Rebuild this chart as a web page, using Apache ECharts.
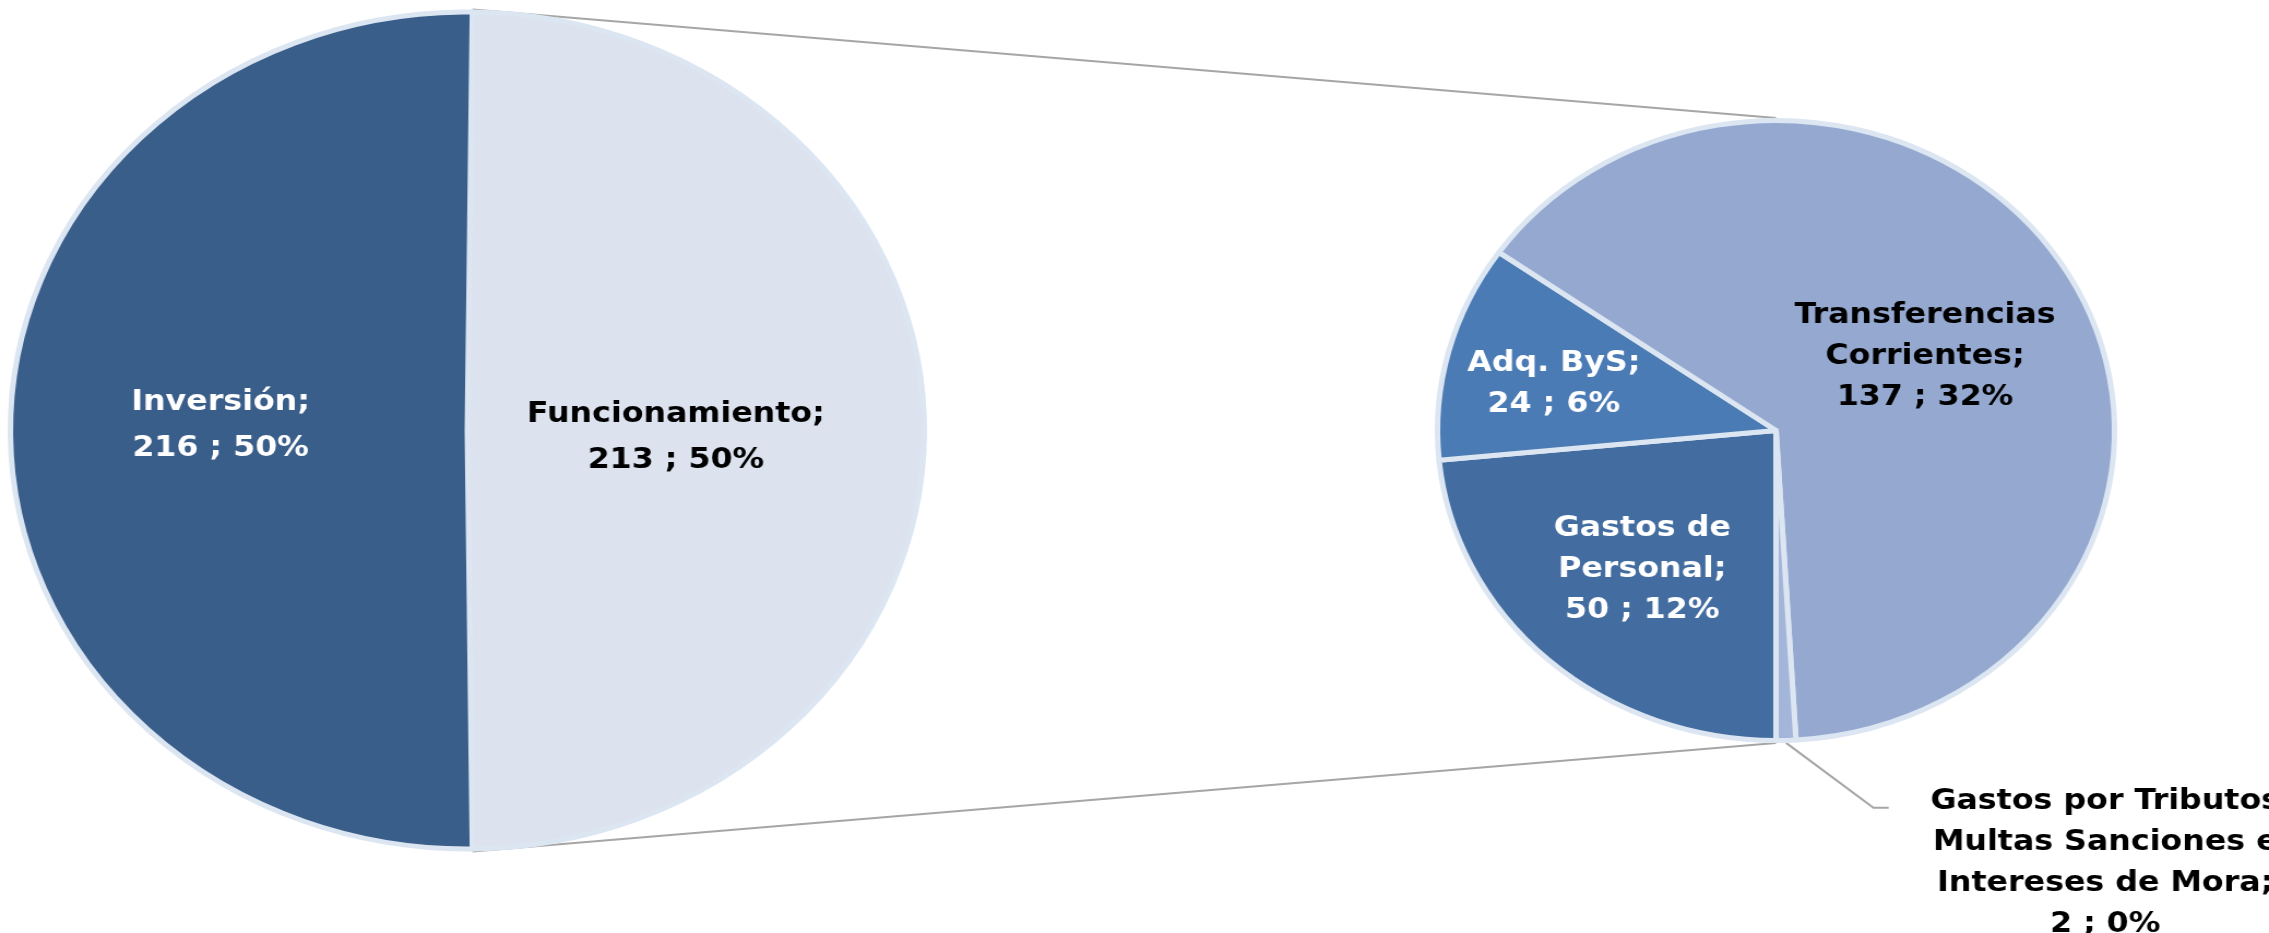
<!DOCTYPE html>
<html><head><meta charset="utf-8">
<script src="https://cdn.jsdelivr.net/npm/echarts@6/dist/echarts.min.js"></script>
<style>
html,body{margin:0;padding:0;background:#fff;overflow:hidden;width:2269px;height:933px;}
#wrap{width:2269px;height:933px;overflow:hidden;position:relative;}
#chart{width:2078px;height:933px;transform:scaleX(1.09191);transform-origin:0 0;}
</style></head><body><div id="wrap"><div id="chart"></div></div>
<script>
// ---- data ----
const mainCategories = ['Funcionamiento', 'Inversión'];
const mainValues = [213, 216];
const detailCategories = ['Gastos de Personal', 'Adq. ByS', 'Transferencias Corrientes', 'Gastos por Tributos Multas Sanciones e Intereses de Mora'];
const detailValues = [50, 24, 137, 2];
const detailLabelText = ['Gastos de\nPersonal', 'Adq. ByS', 'Transferencias\nCorrientes', 'Gastos por Tributos\nMultas Sanciones e\nIntereses de Mora'];

// ---- layout / style ----
const mainColors = ['#DCE3EE', '#3A5E8A'];
const detailColors = ['#436DA0', '#4A7BB5', '#95A9D0', '#A3B5D8'];
const mainLabelColors = ['#000000', '#FFFFFF'];
const detailLabelColors = ['#FFFFFF', '#FFFFFF', '#000000', '#000000'];
const L = { cx: 428, cy: 430.5, r: 418.5 };
const R = { cx: 1626.5, cy: 430.5, r: 310 };
const BW = 5;
const mainLabelPos = [[619, 437], [202, 425]];
const detailLabelPos = [[1504, 569], [1423, 384], [1763, 356], [1928, 863]];

const total = mainValues.reduce((a, b) => a + b, 0);
const pct = v => Math.round(v / total * 100);
const mainStart = 180 * mainValues[0] / total;   // secondary portion centred on 3 o'clock
const detailStart = 270;

const chart = echarts.init(document.getElementById('chart'), null, { renderer: 'canvas' });

const RL = L.r + BW / 2, RR = R.r + BW / 2;
const a = mainStart * Math.PI / 180;
const p1 = [L.cx + RL * Math.cos(a), L.cy - RL * Math.sin(a)];
const p2 = [L.cx + RL * Math.cos(a), L.cy + RL * Math.sin(a)];
const q1 = [R.cx, R.cy - RR];
const q2 = [R.cx, R.cy + RR];

// leader for the tiny slice, from its arc mid-point
const detTotal = detailValues.reduce((x, y) => x + y, 0);
let before = 0; for (let i = 0; i < 3; i++) before += detailValues[i];
const midDeg = detailStart - (before + detailValues[3] / 2) / detTotal * 360;
const mr = midDeg * Math.PI / 180;
const s0 = [R.cx + RR * Math.cos(mr), R.cy - RR * Math.sin(mr)];
const s1 = [s0[0] + 80, s0[1] + 65];
const s2 = [s1[0] + 14, s1[1]];

const fontFam = '"DejaVu Sans", sans-serif';

chart.setOption({
  backgroundColor: '#ffffff',
  animation: false,
  graphic: [
    { type: 'line', z: 0, silent: true, shape: { x1: p1[0], y1: p1[1], x2: q1[0], y2: q1[1] }, style: { stroke: '#A6A6A6', lineWidth: 2 } },
    { type: 'line', z: 0, silent: true, shape: { x1: p2[0], y1: p2[1], x2: q2[0], y2: q2[1] }, style: { stroke: '#A6A6A6', lineWidth: 2 } },
    { type: 'polyline', z: 0, silent: true, shape: { points: [s0, s1, s2] }, style: { stroke: '#A6A6A6', lineWidth: 2, fill: null } }
  ],
  series: [
    {
      type: 'pie', z: 2, silent: true,
      center: [L.cx, L.cy], radius: [0, L.r],
      startAngle: mainStart, clockwise: true,
      avoidLabelOverlap: false,
      itemStyle: { borderColor: '#DCE6F2', borderWidth: BW },
      label: {
        show: true, position: 'inside',
        fontFamily: fontFam, fontWeight: 'bold', fontSize: 29, lineHeight: 46,
        align: 'center',
        formatter: p => p.name + ';\n' + p.value + ' ; ' + pct(p.value) + '%'
      },
      labelLine: { show: false },
      labelLayout: p => ({ x: mainLabelPos[p.dataIndex][0], y: mainLabelPos[p.dataIndex][1], align: 'center', verticalAlign: 'middle' }),
      data: mainCategories.map((n, i) => ({ name: n, value: mainValues[i], itemStyle: { color: mainColors[i] }, label: { color: mainLabelColors[i] } }))
    },
    {
      type: 'pie', z: 2, silent: true,
      center: [R.cx, R.cy], radius: [0, R.r],
      startAngle: detailStart, clockwise: true,
      avoidLabelOverlap: false,
      itemStyle: { borderColor: '#DCE6F2', borderWidth: BW },
      label: {
        show: true, position: 'inside',
        fontFamily: fontFam, fontWeight: 'bold', fontSize: 29, lineHeight: 41,
        align: 'center',
        formatter: p => detailLabelText[p.dataIndex] + ';\n' + p.value + ' ; ' + pct(p.value) + '%'
      },
      labelLine: { show: false },
      labelLayout: p => ({ x: detailLabelPos[p.dataIndex][0], y: detailLabelPos[p.dataIndex][1], align: 'center', verticalAlign: 'middle' }),
      data: detailCategories.map((n, i) => ({ name: n, value: detailValues[i], itemStyle: { color: detailColors[i] }, label: { color: detailLabelColors[i] } }))
    }
  ]
});
</script></body></html>
